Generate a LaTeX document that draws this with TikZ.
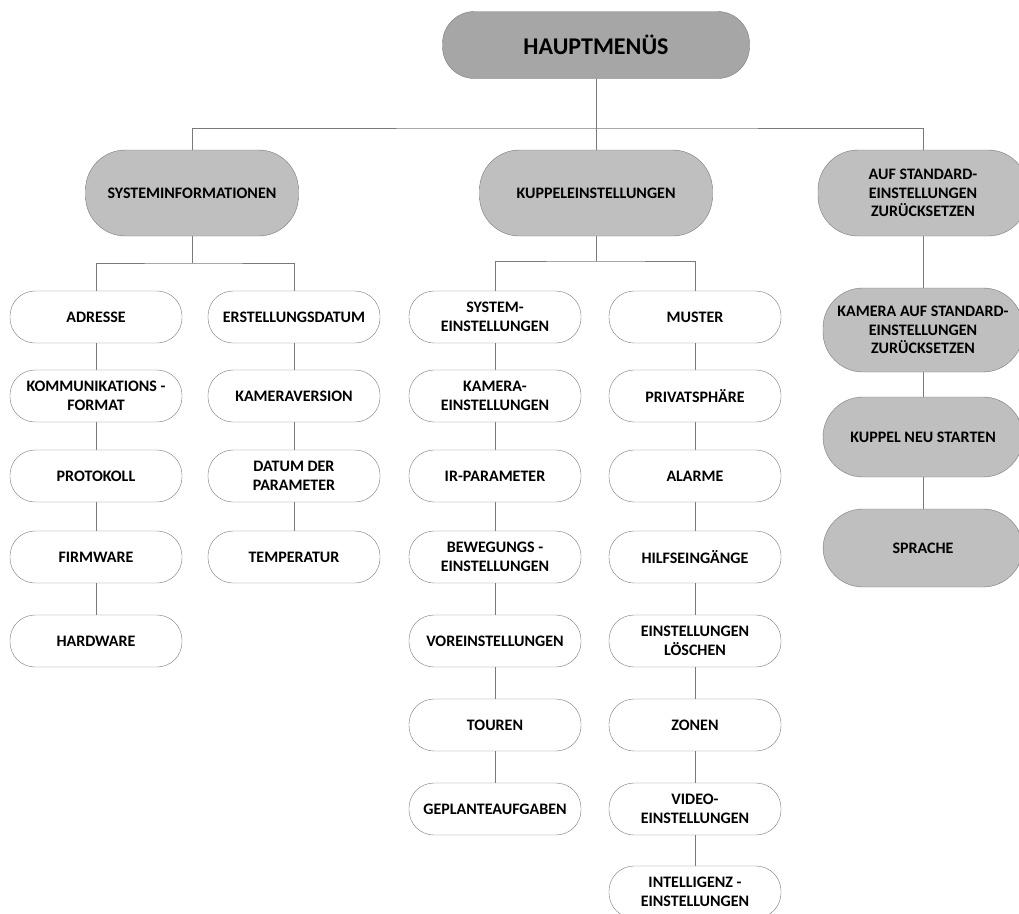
\documentclass[tikz,border=0pt]{standalone}
\usepackage{fontspec}
\setmainfont{Carlito}

\definecolor{linie}{HTML}{7A7A7A}
\definecolor{grauhell}{HTML}{BFBFBF}
\definecolor{graudunkel}{HTML}{A6A6A6}

\tikzset{
    eintrag/.style={draw=linie, fill=white, rounded corners=25pt, inner sep=0pt,
        minimum width=172pt, minimum height=52pt, align=center,
        font=\bfseries\fontsize{16}{18.5}\selectfont},
    gruppe/.style={eintrag, fill=grauhell, rounded corners=40pt, minimum height=86pt},
    haupt/.style={eintrag, fill=graudunkel, rounded corners=32pt,
        minimum width=307pt, minimum height=67pt,
        font=\bfseries\fontsize{24}{26}\selectfont},
    verbindung/.style={draw=linie, line width=0.8pt}
}

\begin{document}
\begin{tikzpicture}[x=1pt,y=-1pt]
    \useasboundingbox (0,0) rectangle (1019,913);

    % obere Ebene
    \node[haupt] (hauptmenu) at (596,45) {HAUPTMENÜS};
    \node[gruppe, minimum width=213pt] (sysinfo) at (192,193) {SYSTEMINFORMATIONEN};
    \node[gruppe, minimum width=233pt] (kuppel) at (596,193) {KUPPELEINSTELLUNGEN};
    \node[gruppe, minimum width=210pt] (standard) at (923,193) {AUF STANDARD-\\EINSTELLUNGEN\\ZURÜCKSETZEN};

    % Systeminformationen
    \node[eintrag] (adresse) at (96,317) {ADRESSE};
    \node[eintrag] (kommformat) at (96,396) {KOMMUNIKATIONS -\\FORMAT};
    \node[eintrag] (protokoll) at (96,476) {PROTOKOLL};
    \node[eintrag] (firmware) at (96,557) {FIRMWARE};
    \node[eintrag] (hardware) at (96,641) {HARDWARE};
    \node[eintrag] (erstellung) at (294,317) {ERSTELLUNGSDATUM};
    \node[eintrag] (kameraversion) at (294,396) {KAMERAVERSION};
    \node[eintrag] (paramdatum) at (294,476) {DATUM DER\\PARAMETER};
    \node[eintrag] (temperatur) at (294,557) {TEMPERATUR};

    % Kuppeleinstellungen
    \node[eintrag] (systemeinst) at (495,317) {SYSTEM-\\EINSTELLUNGEN};
    \node[eintrag] (kameraeinst) at (495,396) {KAMERA-\\EINSTELLUNGEN};
    \node[eintrag] (irparam) at (495,476) {IR-PARAMETER};
    \node[eintrag] (bewegung) at (495,557) {BEWEGUNGS -\\EINSTELLUNGEN};
    \node[eintrag] (voreinst) at (495,641) {VOREINSTELLUNGEN};
    \node[eintrag] (touren) at (495,725) {TOUREN};
    \node[eintrag] (geplant) at (495,809) {GEPLANTEAUFGABEN};
    \node[eintrag] (muster) at (695,317) {MUSTER};
    \node[eintrag] (privat) at (695,396) {PRIVATSPHÄRE};
    \node[eintrag] (alarme) at (695,476) {ALARME};
    \node[eintrag] (hilfe) at (695,557) {HILFSEINGÄNGE};
    \node[eintrag] (loeschen) at (695,641) {EINSTELLUNGEN\\LÖSCHEN};
    \node[eintrag] (zonen) at (695,725) {ZONEN};
    \node[eintrag] (video) at (695,809) {VIDEO-\\EINSTELLUNGEN};
    \node[eintrag] (intelligenz) at (695,892) {INTELLIGENZ -\\EINSTELLUNGEN};

    % Standard
    \node[gruppe, minimum width=200pt, minimum height=84pt] (kamerastd) at (923,330) {KAMERA AUF STANDARD-\\EINSTELLUNGEN\\ZURÜCKSETZEN};
    \node[gruppe, minimum width=200pt, minimum height=80pt] (neustart) at (923,437) {KUPPEL NEU STARTEN};
    \node[gruppe, minimum width=200pt, minimum height=78pt] (sprache) at (923,548) {SPRACHE};

    % Verbindungen
    \coordinate (hbus) at (596,128);
    \coordinate (sbus) at (192,263);
    \coordinate (kbus) at (596,261);
    \draw[verbindung] (hauptmenu) -- (hbus);
    \draw[verbindung] (sysinfo) |- (hbus) -| (standard);
    \draw[verbindung] (kuppel) -- (hbus);
    \draw[verbindung] (sysinfo) -- (sbus);
    \draw[verbindung] (adresse) |- (sbus) -| (erstellung);
    \draw[verbindung] (kuppel) -- (kbus);
    \draw[verbindung] (systemeinst) |- (kbus) -| (muster);
    \draw[verbindung] (adresse) -- (kommformat) -- (protokoll) -- (firmware) -- (hardware);
    \draw[verbindung] (erstellung) -- (kameraversion) -- (paramdatum) -- (temperatur);
    \draw[verbindung] (systemeinst) -- (kameraeinst) -- (irparam) -- (bewegung) -- (voreinst) -- (touren) -- (geplant);
    \draw[verbindung] (muster) -- (privat) -- (alarme) -- (hilfe) -- (loeschen) -- (zonen) -- (video) -- (intelligenz);
    \draw[verbindung] (standard) -- (kamerastd) -- (neustart) -- (sprache);
\end{tikzpicture}
\end{document}
